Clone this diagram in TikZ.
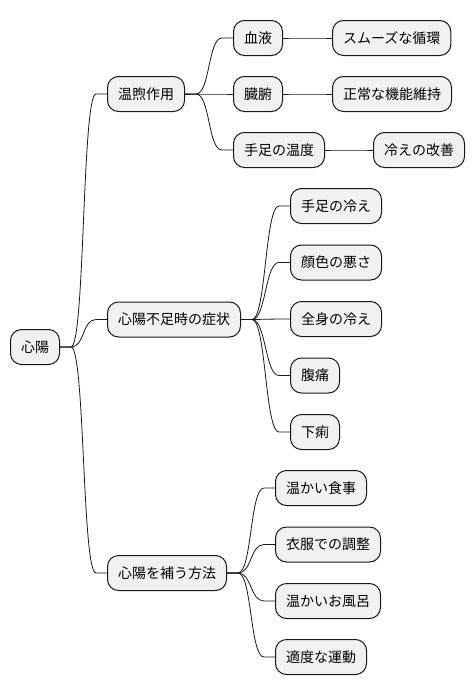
\documentclass[tikz,border=0pt]{standalone}
\usepackage{fontspec}
\setmainfont{Noto Sans CJK JP}
\definecolor{boxfill}{HTML}{F1F1F1}
\definecolor{linec}{HTML}{181818}
\tikzset{
  mmnode/.style={draw=linec, fill=boxfill, line width=1pt, rounded corners=11pt,
    minimum height=35pt, inner xsep=10.5pt, inner ysep=0pt, anchor=west,
    font=\fontsize{14}{16}\selectfont, text=black},
  edge/.style={draw=linec, line width=0.8pt}
}
\newcommand\mmconn[2]{\draw[edge] (#1.east) -- ++(11,0) .. controls +(14,0) and +(-14,0) .. ([xshift=-11pt]#2.west) -- (#2.west);}
\begin{document}
\begin{tikzpicture}[x=1pt,y=-1pt]
\useasboundingbox (0,0) rectangle (474,696);
\node[mmnode] (r) at (10,347) {心陽};
\node[mmnode] (a) at (107,94) {温煦作用};
\node[mmnode] (a1) at (233,38) {血液};
\node[mmnode] (a1x) at (332,38) {スムーズな循環};
\node[mmnode] (a2) at (233,94) {臓腑};
\node[mmnode] (a2x) at (332,94) {正常な機能維持};
\node[mmnode] (a3) at (233,150) {手足の温度};
\node[mmnode] (a3x) at (373,150) {冷えの改善};
\node[mmnode] (b) at (107,319.5) {心陽不足時の症状};
\node[mmnode] (b1) at (290,206) {手足の冷え};
\node[mmnode] (b2) at (290,262.5) {顔色の悪さ};
\node[mmnode] (b3) at (290,319) {全身の冷え};
\node[mmnode] (b4) at (290,375.5) {腹痛};
\node[mmnode] (b5) at (290,432) {下痢};
\node[mmnode] (c) at (107,573) {心陽を補う方法};
\node[mmnode] (c1) at (275,488) {温かい食事};
\node[mmnode] (c2) at (275,544.5) {衣服での調整};
\node[mmnode] (c3) at (275,601) {温かいお風呂};
\node[mmnode] (c4) at (275,657) {適度な運動};
\mmconn{r}{a}
\mmconn{r}{b}
\mmconn{r}{c}
\mmconn{a}{a1}
\mmconn{a}{a2}
\mmconn{a}{a3}
\mmconn{a1}{a1x}
\mmconn{a2}{a2x}
\mmconn{a3}{a3x}
\mmconn{b}{b1}
\mmconn{b}{b2}
\mmconn{b}{b3}
\mmconn{b}{b4}
\mmconn{b}{b5}
\mmconn{c}{c1}
\mmconn{c}{c2}
\mmconn{c}{c3}
\mmconn{c}{c4}
\end{tikzpicture}
\end{document}
